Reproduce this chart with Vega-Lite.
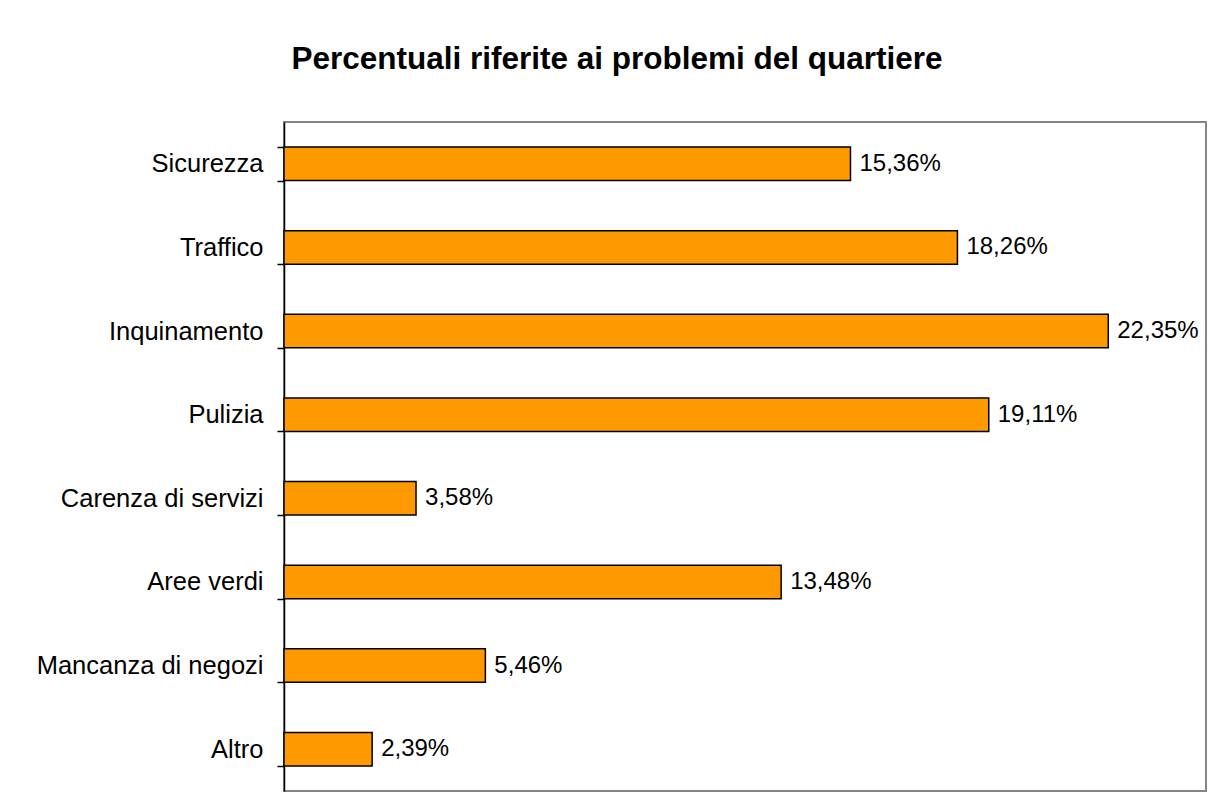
{
  "$schema": "https://vega.github.io/schema/vega-lite/v6.json",
  "autosize": "none",
  "padding": {"left": 284, "top": 122, "right": 5, "bottom": 12},
  "width": 922,
  "height": 669,
  "background": "white",
  "title": {
    "text": "Percentuali riferite ai problemi del quartiere",
    "font": "Liberation Sans",
    "fontSize": 31.5,
    "fontWeight": "bold",
    "color": "black",
    "anchor": "middle",
    "dx": -128,
    "offset": 35
  },
  "data": {
    "values": [
      {"problema": "Sicurezza", "valore": 15.36, "label": "15,36%"},
      {"problema": "Traffico", "valore": 18.26, "label": "18,26%"},
      {"problema": "Inquinamento", "valore": 22.35, "label": "22,35%"},
      {"problema": "Pulizia ", "valore": 19.11, "label": "19,11%"},
      {"problema": "Carenza di servizi", "valore": 3.58, "label": "3,58%"},
      {"problema": "Aree verdi", "valore": 13.48, "label": "13,48%"},
      {"problema": "Mancanza di negozi", "valore": 5.46, "label": "5,46%"},
      {"problema": "Altro", "valore": 2.39, "label": "2,39%"}
    ]
  },
  "encoding": {
    "y": {
      "field": "problema",
      "type": "nominal",
      "sort": null,
      "scale": {"paddingInner": 0.6, "paddingOuter": 0.3},
      "axis": {
        "title": null,
        "domainColor": "black",
        "domainWidth": 1.5,
        "tickColor": "black",
        "tickWidth": 1.5,
        "tickSize": 7,
        "tickBand": "extent",
        "labelFont": "Liberation Sans",
        "labelFontSize": 25.5,
        "labelColor": "black",
        "labelPadding": 14,
        "labelLimit": 0
      }
    },
    "x": {
      "field": "valore",
      "type": "quantitative",
      "scale": {"domain": [0, 25]},
      "axis": null
    }
  },
  "layer": [
    {
      "mark": {"type": "bar", "color": "#FF9900", "stroke": "black", "strokeWidth": 1.5}
    },
    {
      "mark": {"type": "text", "align": "left", "baseline": "middle", "dx": 9, "font": "Liberation Sans", "fontSize": 24, "color": "black"},
      "encoding": {"text": {"field": "label"}}
    }
  ],
  "config": {
    "view": {"stroke": "#858585", "strokeWidth": 2},
    "axis": {"grid": false}
  }
}
